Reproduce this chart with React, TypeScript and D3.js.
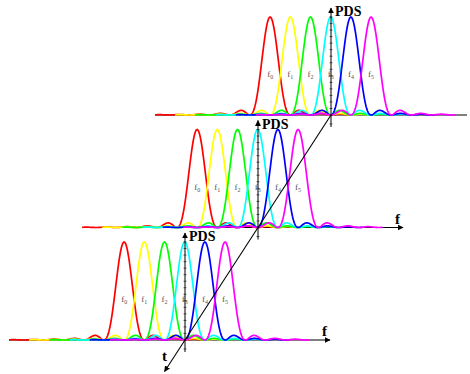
import React from "react";
import * as d3 from "d3";

// subcarrier centres, in units of the carrier spacing, relative to the PDS axis
const carrierOffsets = [-3, -2, -1, 0, 1, 2];
const carrierColors = ["#ff0000", "#ffff00", "#00ff00", "#00ffff", "#0000ff", "#ff00ff"];
const carrierLabels = ["0", "1", "2", "3", "4", "5"];
// OFDM symbols along the time axis (back to front)
const timeSlots = [0, 1, 2];
const peakPower = [1, 1, 1];

const W = 470;
const H = 374;

// sinc^2 spectrum of one subcarrier
const sinc2 = (x: number) => {
  if (Math.abs(x) < 1e-9) return 1;
  const s = Math.sin(Math.PI * x) / (Math.PI * x);
  return s * s;
};

const App = () => {
  // panel origins along the oblique time axis
  const originX = d3.scaleLinear().domain([0, 2]).range([331, 185]);
  const originY = d3.scaleLinear().domain([0, 2]).range([115, 340]);

  const fScale = d3.scaleLinear().domain([-8.7, 6.7]).range([-176, 135]);
  const pScale = d3.scaleLinear().domain([0, 1]).range([0, -98]);

  const line = d3
    .line<number>()
    .x((f) => fScale(f))
    .curve(d3.curveLinear);

  const axisTicks = d3.range(0, 1.0001, 1 / 15);
  const tEnd = 2.28;

  return (
    <svg
      width={W}
      height={H}
      style={{ position: "absolute", left: 0, top: 0, background: "#fff" }}
      fontFamily="'Liberation Serif', 'Times New Roman', serif"
    >
      <defs>
        <marker
          id="arr"
          viewBox="0 0 10 10"
          refX="9"
          refY="5"
          markerWidth="6"
          markerHeight="6"
          markerUnits="userSpaceOnUse"
          orient="auto"
        >
          <path d="M0,0 L10,5 L0,10 z" fill="#000" />
        </marker>
      </defs>

      {timeSlots.map((t, ti) => {
        const ox = originX(t);
        const oy = originY(t);
        const front = t > 0;
        return (
          <g key={t} transform={`translate(${ox},${oy})`}>
            {/* frequency axis */}
            <line
              x1={fScale(-8.7)}
              x2={front ? 145 : 136}
              y1={0}
              y2={0}
              stroke="#000"
              strokeWidth={1.1}
              markerEnd={front ? "url(#arr)" : undefined}
            />
            {front && (
              <text x={137} y={-4} fontSize={15} fontWeight="bold">
                f
              </text>
            )}
            {/* subcarrier spectra */}
            {carrierOffsets.map((c, i) => {
              const samples = d3.range(c - 5.7, Math.min(c + 4.2, 6.7), 0.02);
              return (
                <path
                  key={i}
                  d={line.y((f) => pScale(peakPower[ti] * sinc2(f - c)))(samples) || ""}
                  fill="none"
                  stroke={carrierColors[i]}
                  strokeWidth={1.7}
                />
              );
            })}
            {/* carrier labels */}
            {carrierOffsets.map((c, i) => (
              <text
                key={"l" + i}
                x={fScale(c)}
                y={-38}
                fontSize={9}
                fill="#555"
                textAnchor="middle"
              >
                f
                <tspan fontSize={6} dy={2}>
                  {carrierLabels[i]}
                </tspan>
              </text>
            ))}
            {/* PDS axis */}
            <line
              x1={0}
              x2={0}
              y1={12}
              y2={-107}
              stroke="#000"
              strokeWidth={1}
              markerEnd="url(#arr)"
            />
            {axisTicks.map((v, k) => (
              <line
                key={"t" + k}
                x1={-1.5}
                x2={1.5}
                y1={pScale(v)}
                y2={pScale(v)}
                stroke="#000"
                strokeWidth={0.6}
              />
            ))}
            <line x1={-1.5} x2={1.5} y1={9} y2={9} stroke="#000" strokeWidth={0.6} />
            <text x={4} y={-99} fontSize={14} fontWeight="bold">
              PDS
            </text>
          </g>
        );
      })}

      {/* time axis */}
      <line
        x1={originX(0)}
        y1={originY(0)}
        x2={originX(tEnd)}
        y2={originY(tEnd)}
        stroke="#000"
        strokeWidth={1.1}
        markerEnd="url(#arr)"
      />
      <text
        x={originX(2.15) - 12}
        y={originY(2.15) + 4}
        fontSize={15}
        fontWeight="bold"
      >
        t
      </text>
    </svg>
  );
};

export default App;
